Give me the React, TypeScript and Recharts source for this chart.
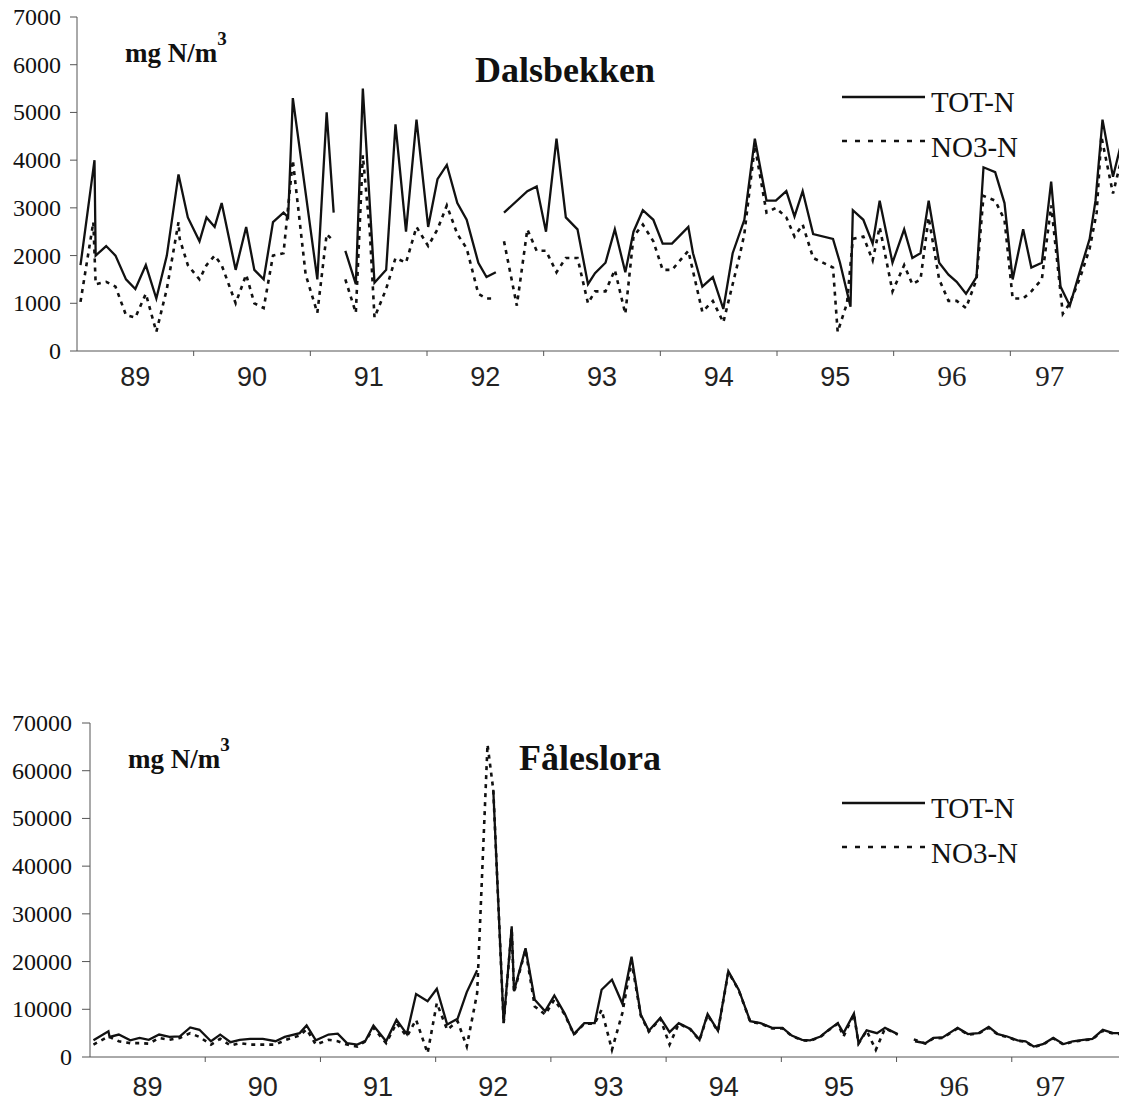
import React from "react";
import { LineChart, Line, XAxis, YAxis, Legend } from "recharts";

// Dalsbekken, TOT-N (decimal year, mg N/m3), null = break in the line
const dalsTotYears = [
  89.03, 89.15, 89.16, 89.25, 89.33, 89.42, 89.5, 89.59, 89.68, 89.77, 89.87, 89.95,
  90.05, 90.11, 90.18, 90.24, 90.36, 90.45, 90.52, 90.6, 90.68, 90.77, 90.81, 90.85,
  91.06, 91.14, 91.2, 91.25, 91.3, 91.39, 91.45, 91.55, 91.65, 91.73, 91.82, 91.91,
  92.01, 92.09, 92.17, 92.26, 92.34, 92.44, 92.51, 92.59, 92.62, 92.66, 92.86, 92.94,
  93.02, 93.11, 93.19, 93.29, 93.38, 93.44, 93.53, 93.61, 93.7, 93.77, 93.85, 93.94,
  94.02, 94.1, 94.24, 94.28, 94.36, 94.45, 94.54, 94.62, 94.72, 94.81, 94.91, 94.99,
  95.08, 95.15, 95.22, 95.31, 95.48, 95.54, 95.63, 95.65, 95.74, 95.82, 95.88, 95.99,
  96.09, 96.16, 96.23, 96.3, 96.39, 96.47, 96.54, 96.62, 96.71, 96.77, 96.87, 96.95,
  97.02, 97.11, 97.18, 97.27, 97.35, 97.43, 97.51, 97.6, 97.68, 97.73, 97.79, 97.88, 97.96,
];
const dalsTotValues = [
  1800, 4000, 2000, 2200, 2000, 1500, 1300, 1800, 1100, 2000, 3700, 2800,
  2300, 2800, 2600, 3100, 1700, 2600, 1700, 1500, 2700, 2900, 2800, 5300,
  1500, 5000, 2900, null, 2100, 1400, 5500, 1430, 1700, 4750, 2500, 4850,
  2600, 3600, 3900, 3100, 2750, 1850, 1550, 1650, null, 2900, 3350, 3450,
  2500, 4450, 2800, 2550, 1400, 1630, 1850, 2550, 1650, 2500, 2950, 2750,
  2250, 2250, 2600, 2050, 1350, 1550, 880, 2050, 2750, 4450, 3150, 3150,
  3350, 2820, 3350, 2450, 2350, 1850, 930, 2950, 2750, 2250, 3150, 1850,
  2550, 1950, 2050, 3150, 1850, 1600, 1450, 1200, 1550, 3850, 3750, 3100,
  1500, 2550, 1750, 1850, 3550, 1350, 950, 1700, 2350, 3150, 4850, 3650, 4450,
];

// Dalsbekken, NO3-N
const dalsNo3Years = [
  89.03, 89.14, 89.16, 89.25, 89.33, 89.42, 89.5, 89.59, 89.68, 89.77, 89.87, 89.88, 89.95,
  90.05, 90.11, 90.18, 90.24, 90.36, 90.45, 90.52, 90.6, 90.68, 90.77, 90.85, 90.96,
  91.06, 91.14, 91.2, 91.25, 91.3, 91.39, 91.45, 91.51, 91.55, 91.65, 91.73, 91.82, 91.91,
  92.01, 92.09, 92.17, 92.26, 92.34, 92.44, 92.51, 92.59, 92.62, 92.66, 92.77, 92.86, 92.94,
  93.02, 93.11, 93.19, 93.29, 93.38, 93.44, 93.53, 93.61, 93.7, 93.77, 93.85, 93.94,
  94.02, 94.1, 94.24, 94.36, 94.45, 94.54, 94.62, 94.68, 94.72, 94.81, 94.91, 94.99,
  95.08, 95.15, 95.22, 95.31, 95.48, 95.52, 95.6, 95.65, 95.74, 95.82, 95.88, 95.99,
  96.09, 96.16, 96.23, 96.3, 96.39, 96.47, 96.54, 96.62, 96.71, 96.77, 96.87, 96.95,
  97.02, 97.11, 97.18, 97.27, 97.35, 97.45, 97.51, 97.6, 97.68, 97.74, 97.78, 97.88, 97.96,
];
const dalsNo3Values = [
  1030, 2700, 1400, 1450, 1350, 750, 700, 1200, 400, 1300, 2700, 2350, 1800,
  1500, 1800, 2000, 1800, 1000, 1600, 1000, 900, 2000, 2050, 4000, 1600,
  800, 2450, 2300, null, 1500, 800, 4100, 2500, 700, 1300, 1950, 1850, 2600,
  2200, 2550, 3050, 2450, 2150, 1200, 1100, 1100, null, 2300, 950, 2550, 2100,
  2100, 1650, 1950, 1950, 1000, 1250, 1250, 1700, 780, 2400, 2650, 2300,
  1700, 1700, 2100, 820, 1050, 600, 1400, 2000, 2450, 4300, 2900, 3000,
  2800, 2400, 2650, 1950, 1750, 400, 1000, 2350, 2400, 1900, 2600, 1250,
  1800, 1400, 1500, 2800, 1500, 1050, 1050, 900, 1500, 3250, 3150, 2750,
  1100, 1100, 1250, 1500, 3050, 780, 1000, 1550, 2150, 2900, 4500, 3300, 4100,
];

// Fåleslora, TOT-N
const faleTotYears = [
  89.03, 89.16, 89.17, 89.25, 89.35, 89.43, 89.51, 89.6, 89.69, 89.78, 89.87, 89.95,
  90.05, 90.13, 90.22, 90.3, 90.39, 90.5, 90.61, 90.69, 90.82, 90.88, 90.96,
  91.07, 91.15, 91.23, 91.32, 91.39, 91.46, 91.57, 91.66, 91.75, 91.83, 91.93,
  92.01, 92.1, 92.19, 92.27, 92.36, 92.43, 92.5, 92.59, 92.66, 92.68, 92.78, 92.86, 92.95,
  93.03, 93.12, 93.2, 93.29, 93.38, 93.44, 93.53, 93.62, 93.7, 93.78, 93.85, 93.95,
  94.03, 94.11, 94.21, 94.29, 94.36, 94.45, 94.54, 94.63, 94.73, 94.82, 94.92,
  95.01, 95.09, 95.18, 95.25, 95.34, 95.41, 95.49, 95.54, 95.63, 95.67, 95.74, 95.83, 95.9,
  96.01, 96.08, 96.16, 96.25, 96.32, 96.4, 96.53, 96.62, 96.71, 96.8, 96.88, 96.96,
  97.05, 97.12, 97.19, 97.27, 97.36, 97.45, 97.53, 97.62, 97.7, 97.79, 97.88, 97.96,
];
const faleTotValues = [
  3500, 5400, 4200, 4700, 3500, 4000, 3600, 4700, 4200, 4300, 6200, 5700,
  3300, 4700, 3100, 3600, 3800, 3800, 3300, 4200, 5000, 6600, 3500,
  4700, 4900, 2900, 2600, 3400, 6600, 3300, 7800, 4800, 13200, 11700,
  14300, 6800, 8000, 13600, 18200, null, 56000, 7100, 27400, 13800, 22800, 12000, 9600,
  12900, 9100, 4800, 7100, 7100, 14100, 16200, 11200, 21000, 8900, 5500, 8200,
  5200, 7100, 5900, 3600, 9000, 5500, 18000, 14100, 7500, 7100, 6100,
  6100, 4500, 3600, 3500, 4300, 5700, 7100, 5000, 9100, 2900, 5600, 5000, 6100,
  4800, null, 3300, 2900, 4000, 4100, 6100, 4800, 5000, 6300, 4800, 4300,
  3500, 3300, 2200, 2700, 4000, 2700, 3300, 3600, 3800, 5700, 5000, 5000,
];

// Fåleslora, NO3-N
const faleNo3Years = [
  89.03, 89.16, 89.25, 89.35, 89.43, 89.51, 89.6, 89.69, 89.78, 89.87, 89.95,
  90.05, 90.13, 90.22, 90.3, 90.39, 90.5, 90.61, 90.69, 90.82, 90.88, 90.96,
  91.07, 91.15, 91.23, 91.32, 91.39, 91.46, 91.57, 91.66, 91.75, 91.83, 91.93,
  92.01, 92.1, 92.19, 92.27, 92.36, 92.45, 92.5, 92.59, 92.66, 92.68, 92.78, 92.86, 92.95,
  93.03, 93.12, 93.2, 93.29, 93.38, 93.44, 93.53, 93.62, 93.7, 93.78, 93.85, 93.95,
  94.03, 94.11, 94.21, 94.29, 94.36, 94.45, 94.54, 94.63, 94.73, 94.82, 94.92,
  95.01, 95.09, 95.18, 95.25, 95.34, 95.41, 95.49, 95.54, 95.63, 95.67, 95.74, 95.82, 95.9,
  96.01, 96.08, 96.15, 96.25, 96.32, 96.4, 96.53, 96.62, 96.71, 96.8, 96.88, 96.96,
  97.05, 97.12, 97.19, 97.27, 97.36, 97.45, 97.53, 97.62, 97.7, 97.79, 97.88, 97.96,
];
const faleNo3Values = [
  2600, 4300, 3300, 2900, 2900, 2800, 4000, 3600, 4000, 5000, 4200,
  2600, 3800, 2400, 2900, 2600, 2600, 2600, 3500, 4500, 5800, 2600,
  3600, 3300, 2600, 2200, 3300, 6100, 2900, 7100, 4300, 7800, 800,
  11300, 5700, 7500, 2200, 13400, 65500, 56000, 7000, 27000, 13500, 22500, 10600, 8900,
  12000, 8900, 4700, 7000, 7000, 9900, 1500, 9200, 20000, 8700, 5300, 8000,
  2600, 7000, 5800, 3500, 8800, 5400, 17800, 14000, 7400, 7000, 6000,
  6000, 4400, 3500, 3400, 4200, 5600, 7000, 4300, 9000, 2800, 5500, 1500, 6000,
  4700, null, 3700, 2800, 3900, 4000, 6000, 4700, 4900, 6100, 4700, 4200,
  3400, 3200, 2100, 2600, 3900, 2600, 3200, 3500, 3700, 5500, 4900, 4800,
];

const dalsYTicks = [0, 1000, 2000, 3000, 4000, 5000, 6000, 7000];
const faleYTicks = [0, 10000, 20000, 30000, 40000, 50000, 60000, 70000];
const yearTicks = [90, 91, 92, 93, 94, 95, 96, 97];
const serifYears = [96, 97];

const toSeries = (years: number[], values: (number | null)[]) =>
  years.map((t, i) => ({ t, v: values[i] }));

const SERIF = "Liberation Serif";
const SANS = "Liberation Sans";
const INK = "#111";

const YearTick = (props: any) => {
  const { x, y, payload, half, dy } = props;
  const v = payload.value;
  const labels = [{ year: v - 1, cx: x - half }];
  if (v === yearTicks[yearTicks.length - 1]) labels.push({ year: v, cx: x + half - 19 });
  return (
    <g>
      {labels.map((l) => {
        const serif = serifYears.includes(l.year);
        return (
          <text
            key={l.year}
            x={l.cx}
            y={y + dy}
            textAnchor="middle"
            style={{ fontFamily: serif ? SERIF : SANS, fontSize: serif ? 29 : 27 }}
            fill="#222"
          >
            {l.year}
          </text>
        );
      })}
    </g>
  );
};

const ValueTick = (props: any) => {
  const { x, y, payload } = props;
  return (
    <text
      x={x}
      y={y + 8}
      textAnchor="end"
      style={{ fontFamily: SERIF, fontSize: 24 }}
      fill={INK}
    >
      {payload.value}
    </text>
  );
};

const NLegend = () => (
  <svg width={200} height={90}>
    <line x1={4} x2={87} y1={17} y2={17} stroke={INK} strokeWidth={2.5} />
    <text x={93} y={32} style={{ fontFamily: SERIF, fontSize: 29 }} fill={INK}>TOT-N</text>
    <line x1={4} x2={87} y1={61} y2={61} stroke={INK} strokeWidth={2.5} strokeDasharray="5 8" />
    <text x={93} y={77} style={{ fontFamily: SERIF, fontSize: 29 }} fill={INK}>NO3-N</text>
  </svg>
);

type PanelProps = {
  tot: { t: number; v: number | null }[];
  no3: { t: number; v: number | null }[];
  yTicks: number[];
  height: number;
  top: number;
  yWidth: number;
  tickSize: number;
  labelDy: number;
  legendTop: number;
};

const Panel = ({ tot, no3, yTicks, height, top, yWidth, tickSize, labelDy, legendTop }: PanelProps) => {
  const width = 1127;
  const half = (width - yWidth) / 9 / 2;
  return (
    <LineChart width={width} height={height} margin={{ top, right: 0, bottom: 0, left: 0 }}>
      <XAxis
        type="number"
        dataKey="t"
        domain={[89, 98]}
        ticks={yearTicks}
        interval={0}
        height={height - top - 334}
        axisLine={{ stroke: "#555" }}
        tickLine={{ stroke: "#555" }}
        tickSize={5}
        tickMargin={0}
        tick={(p: any) => <YearTick {...p} half={half} dy={labelDy} />}
      />
      <YAxis
        type="number"
        domain={[yTicks[0], yTicks[yTicks.length - 1]]}
        ticks={yTicks}
        interval={0}
        width={yWidth}
        axisLine={{ stroke: "#555" }}
        tickLine={{ stroke: "#555" }}
        tickSize={tickSize}
        tickMargin={tickSize + 2}
        tick={(p: any) => <ValueTick {...p} />}
      />
      <Legend
        layout="vertical"
        align="center"
        verticalAlign="middle"
        content={() => <NLegend />}
        wrapperStyle={{ position: "absolute", left: 838, top: legendTop, width: 200 }}
      />
      <Line
        data={tot}
        dataKey="v"
        name="TOT-N"
        type="linear"
        stroke={INK}
        strokeWidth={2.3}
        dot={false}
        isAnimationActive={false}
      />
      <Line
        data={no3}
        dataKey="v"
        name="NO3-N"
        type="linear"
        stroke={INK}
        strokeWidth={2.6}
        strokeDasharray="4 5"
        dot={false}
        isAnimationActive={false}
      />
    </LineChart>
  );
};

const App = () => {
  return (
    <div style={{ position: "relative", width: 1127, height: 1104, margin: "-8px 0 0 -8px", background: "#fff" }}>
      <div style={{ position: "absolute", left: 0, top: 0 }}>
        <Panel
          tot={toSeries(dalsTotYears, dalsTotValues)}
          no3={toSeries(dalsNo3Years, dalsNo3Values)}
          yTicks={dalsYTicks}
          height={400}
          top={17}
          yWidth={77}
          tickSize={7}
          labelDy={30}
          legendTop={80}
        />
      </div>
      <div style={{ position: "absolute", left: 0, top: 690 }}>
        <Panel
          tot={toSeries(faleTotYears, faleTotValues)}
          no3={toSeries(faleNo3Years, faleNo3Values)}
          yTicks={faleYTicks}
          height={412}
          top={33}
          yWidth={90}
          tickSize={8}
          labelDy={34}
          legendTop={96}
        />
      </div>
      <svg
        width={1127}
        height={1104}
        style={{ position: "absolute", left: 0, top: 0, pointerEvents: "none" }}
      >
        <text x={565} y={82} textAnchor="middle" style={{ fontFamily: SERIF, fontWeight: "bold", fontSize: 36 }} fill={INK}>
          Dalsbekken
        </text>
        <text x={125} y={62} style={{ fontFamily: SERIF, fontWeight: "bold", fontSize: 27 }} fill={INK}>
          mg N/m<tspan dy={-17} style={{ fontSize: 19 }}>3</tspan>
        </text>
        <text x={590} y={770} textAnchor="middle" style={{ fontFamily: SERIF, fontWeight: "bold", fontSize: 36 }} fill={INK}>
          Fåleslora
        </text>
        <text x={128} y={768} style={{ fontFamily: SERIF, fontWeight: "bold", fontSize: 27 }} fill={INK}>
          mg N/m<tspan dy={-17} style={{ fontSize: 19 }}>3</tspan>
        </text>
      </svg>
    </div>
  );
};

export default App;
